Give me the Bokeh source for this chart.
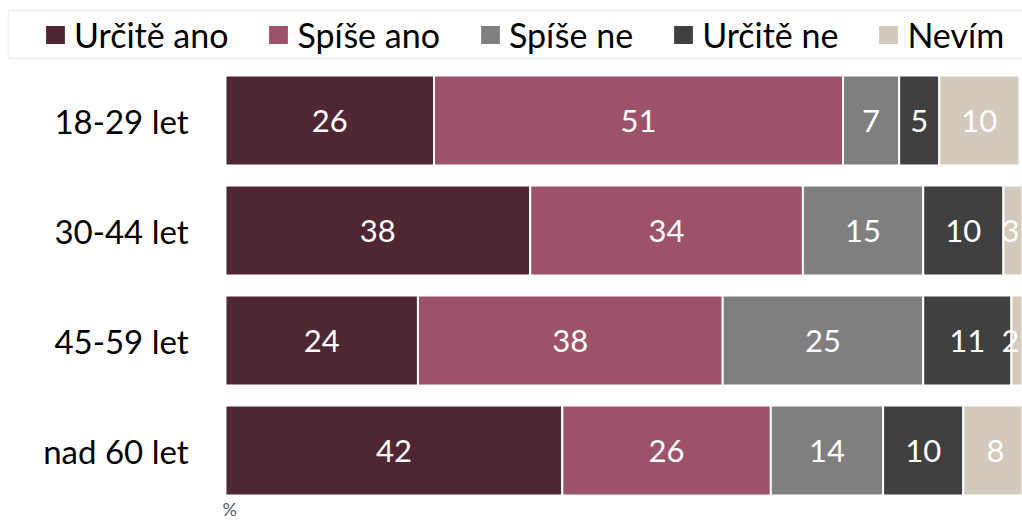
from bokeh.plotting import figure
from bokeh.models import ColumnDataSource, Legend, LegendItem, Label, BoxAnnotation, Range1d
from bokeh.embed import file_html
from bokeh.resources import INLINE
from bokeh.core.properties import value

categories = ["18-29 let", "30-44 let", "45-59 let", "nad 60 let"]
series = ["Určitě ano", "Spíše ano", "Spíše ne", "Určitě ne", "Nevím"]
urcite_ano = [26, 38, 24, 42]
spise_ano = [51, 34, 38, 26]
spise_ne = [7, 15, 25, 14]
urcite_ne = [5, 10, 11, 10]
nevim = [10, 3, 2, 8]
colors = ["#4f2733", "#9c5369", "#7f7f7f", "#404040", "#d3c9bc"]

FONT = "Lato"
XMIN, XMAX = -28.05, 99.38
YMIN, YMAX = -0.6545, 4.091

keys = ["s0", "s1", "s2", "s3", "s4"]
values = [urcite_ano, spise_ano, spise_ne, urcite_ne, nevim]
ypos = [len(categories) - 1 - i for i in range(len(categories))]
data = {"y": ypos, "cat": categories}
for k, v in zip(keys, values):
    data[k] = v
source = ColumnDataSource(data)

p = figure(width=1022, height=522,
           x_range=Range1d(XMIN, XMAX), y_range=Range1d(YMIN, YMAX),
           output_backend="svg", toolbar_location=None,
           min_border=0)
p.outline_line_color = None
p.grid.visible = False
p.axis.visible = False

renderers = p.hbar_stack(keys, y="y", height=0.82, color=colors, source=source,
                         line_color="white", line_width=2)

# category labels
p.text(x=-4.6, y="y", text="cat", source=source, text_align="right", text_baseline="middle",
       text_color="#000000", text_font=value(FONT), text_font_size="33px")

# data labels
lx, ly, lt = [], [], []
for i in range(len(categories)):
    left = 0
    for v in values:
        val = v[i]
        center = min(left + val / 2, XMAX - 1.5)
        lx.append(center)
        ly.append(ypos[i])
        lt.append(str(val))
        left += val
lsrc = ColumnDataSource(dict(x=lx, y=ly, t=lt))
p.text(x="x", y="y", text="t", source=lsrc, text_align="center", text_baseline="middle",
       text_color="white", text_font=value(FONT), text_font_size="31px")

legend = Legend(items=[LegendItem(label=s, renderers=[r]) for s, r in zip(series, renderers)],
                orientation="horizontal", location=(42, 467),
                border_line_color=None, background_fill_alpha=0,
                label_text_font=FONT, label_text_font_size="34px", label_text_color="#000000",
                glyph_width=26, glyph_height=25, label_standoff=6, spacing=37, padding=0, margin=0)
p.add_layout(legend, "center")

box = BoxAnnotation(left=8, right=1030, top=512, bottom=464,
                    left_units="screen", right_units="screen", top_units="screen", bottom_units="screen",
                    fill_alpha=0, line_color="#d0d0d0", line_width=1.5)
p.add_layout(box)

pct = Label(x=222, y=14, x_units="screen", y_units="screen", text="%",
            text_font=FONT, text_font_size="18px", text_color="#595959",
            text_baseline="middle", text_align="left")
p.add_layout(pct)

open("out.html", "w").write(file_html(p, INLINE))
